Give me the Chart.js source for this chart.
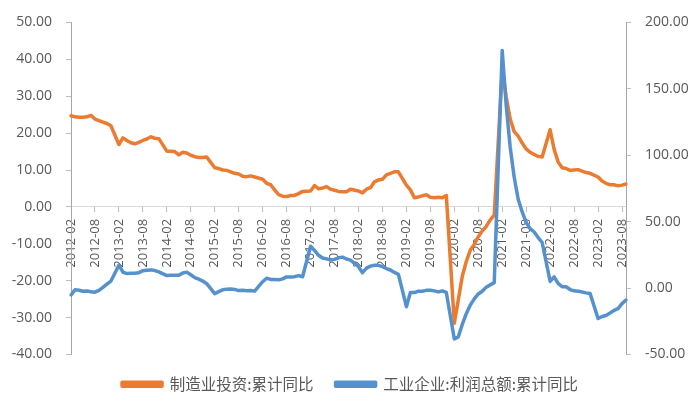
<!DOCTYPE html>
<html>
<head>
<meta charset="utf-8">
<script src="https://cdn.jsdelivr.net/npm/chart.js@4/dist/chart.umd.min.js"></script>
<style>
    html, body { margin: 0; padding: 0; background: #fff; }
</style>
</head>
<body>
<canvas id="chart" width="700" height="420"></canvas>
<script>
// monthly categories 2012-02 ... 2023-09 (January figures are not published)
const months = [];
for (let y = 2012; y <= 2023; y++) {
    for (let m = 1; m <= 12; m++) {
        if (y === 2012 && m < 2) continue;
        if (y === 2023 && m > 9) break;
        months.push(`${y}-${String(m).padStart(2, "0")}`);
    }
}

// 制造业投资:累计同比 (left axis, %)
const mfgInvest = [
    24.7, 24.4, 24.3, 24.3, 24.4, 24.8, 23.8, 23.4, 23.0, 22.6, 22.0,
    null, 16.9, 18.7, 18.0, 17.4, 17.1, 17.5, 18.0, 18.4, 19.0, 18.6, 18.5,
    null, 15.1, 15.1, 15.0, 14.1, 14.8, 14.6, 14.0, 13.6, 13.4, 13.4, 13.5,
    null, 10.6, 10.4, 10.0, 9.9, 9.5, 9.1, 8.9, 8.3, 8.2, 8.4, 8.1,
    null, 7.5, 6.4, 6.0, 4.6, 3.3, 2.9, 2.8, 3.1, 3.1, 3.6, 4.2,
    null, 4.3, 5.8, 4.9, 5.1, 5.5, 4.8, 4.5, 4.2, 4.1, 4.1, 4.8,
    null, 4.3, 3.8, 4.8, 5.2, 6.8, 7.3, 7.5, 8.7, 9.1, 9.5, 9.5,
    null, 5.9, 4.6, 2.5, 2.7, 3.0, 3.3, 2.6, 2.5, 2.6, 2.5, 3.1,
    null, -31.5, -25.2, -18.8, -14.8, -11.7, -10.2, -8.1, -6.5, -5.3, -3.5, -2.2,
    null, 37.3, 29.8, 23.8, 20.4, 19.2, 17.3, 15.7, 14.8, 14.2, 13.7, 13.5,
    null, 20.9, 15.6, 12.2, 10.6, 10.4, 9.9, 10.0, 10.1, 9.7, 9.3, 9.1,
    null, 8.1, 7.0, 6.4, 6.0, 6.0, 5.7, 5.9, 6.2
];

// 工业企业:利润总额:累计同比 (right axis, %)
const profitTotal = [
    -5.2, -1.3, -1.6, -2.4, -2.2, -2.7, -3.1, -1.8, 0.5, 3.0, 5.3,
    null, 17.2, 12.1, 10.9, 11.1, 11.1, 11.6, 13.1, 13.5, 13.7, 13.2, 12.2,
    null, 9.4, 9.6, 9.6, 9.6, 11.4, 12.0, 10.0, 7.9, 6.7, 5.3, 3.3,
    null, -4.2, -2.7, -1.3, -0.8, -0.7, -1.0, -1.9, -1.7, -2.0, -1.9, -2.3,
    null, 4.8, 7.4, 6.5, 6.4, 6.2, 6.9, 8.4, 8.4, 8.6, 9.4, 8.5,
    null, 31.5, 28.3, 24.7, 22.7, 22.0, 21.1, 21.6, 22.8, 23.3, 21.9, 21.0,
    null, 16.1, 11.6, 15.0, 16.5, 17.2, 17.1, 16.2, 14.7, 13.6, 11.8, 10.3,
    null, -14.0, -3.3, -3.4, -2.3, -2.4, -1.7, -1.7, -2.1, -2.9, -2.1, -3.3,
    null, -38.3, -36.7, -27.4, -19.3, -12.8, -8.1, -4.4, -2.4, 0.7, 2.4, 4.1,
    null, 178.9, 137.3, 106.0, 83.4, 66.9, 57.3, 49.5, 44.7, 42.2, 38.0, 34.3,
    null, 5.0, 8.5, 3.5, 1.0, 1.0, -1.1, -2.1, -2.3, -3.0, -3.6, -4.0,
    null, -22.9, -21.4, -20.6, -18.8, -16.8, -15.5, -11.7, -9.0
];

const leftRange = [-40, 50, 10];
const rightRange = [-50, 200, 50];

const orange = "#E97C30";
const blue = "#5592CD";
const textColor = "#595959";
const latin = "'Open Sans', 'DejaVu Sans', sans-serif";
const cjk = "'Noto Sans CJK SC', 'Open Sans', sans-serif";

new Chart(document.getElementById("chart"), {
    type: "line",
    data: {
        labels: months,
        datasets: [
            {
                label: "制造业投资:累计同比",
                data: mfgInvest,
                yAxisID: "y",
                borderColor: orange,
                backgroundColor: orange,
                order: 2
            },
            {
                label: "工业企业:利润总额:累计同比",
                data: profitTotal,
                yAxisID: "y1",
                borderColor: blue,
                backgroundColor: blue,
                order: 1
            }
        ]
    },
    options: {
        responsive: false,
        animation: false,
        spanGaps: true,
        layout: {
            padding: { top: 21, bottom: 18 }
        },
        elements: {
            line: {
                borderWidth: 3.5,
                tension: 0,
                borderJoinStyle: "round",
                borderCapStyle: "round"
            },
            point: { radius: 0 }
        },
        scales: {
            x: {
                type: "category",
                position: { y: 0 },
                offset: false,
                grid: {
                    drawOnChartArea: false,
                    tickLength: 5,
                    color: ctx => (ctx.index % 6 === 0 ? "#bfbfbf" : "transparent")
                },
                border: { color: "#d9d9d9" },
                ticks: {
                    autoSkip: false,
                    minRotation: 90,
                    maxRotation: 90,
                    padding: 7,
                    color: textColor,
                    font: { family: latin, size: 13 },
                    callback: (v, i) => (i % 6 === 0 ? months[i] : "")
                }
            },
            y: {
                position: "left",
                min: leftRange[0],
                max: leftRange[1],
                grid: { drawOnChartArea: false, tickLength: 5, color: "#bfbfbf" },
                border: { color: "#a6a6a6" },
                ticks: {
                    stepSize: leftRange[2],
                    padding: 14,
                    color: textColor,
                    font: { family: latin, size: 14 },
                    callback: v => v.toFixed(2)
                },
                afterFit: s => { s.width = 71; }
            },
            y1: {
                position: "right",
                min: rightRange[0],
                max: rightRange[1],
                grid: { drawOnChartArea: false, tickLength: 5, color: "#bfbfbf" },
                border: { color: "#a6a6a6" },
                ticks: {
                    stepSize: rightRange[2],
                    padding: 14,
                    color: textColor,
                    font: { family: latin, size: 14 },
                    callback: v => v.toFixed(2)
                },
                afterFit: s => { s.width = 74; }
            }
        },
        plugins: {
            tooltip: { enabled: false },
            legend: {
                position: "bottom",
                labels: {
                    sort: (a, b) => a.datasetIndex - b.datasetIndex,
                    boxWidth: 40,
                    boxHeight: 4,
                    padding: 22,
                    color: textColor,
                    font: { family: cjk, size: 15.5 }
                }
            }
        }
    }
});
</script>
</body>
</html>
